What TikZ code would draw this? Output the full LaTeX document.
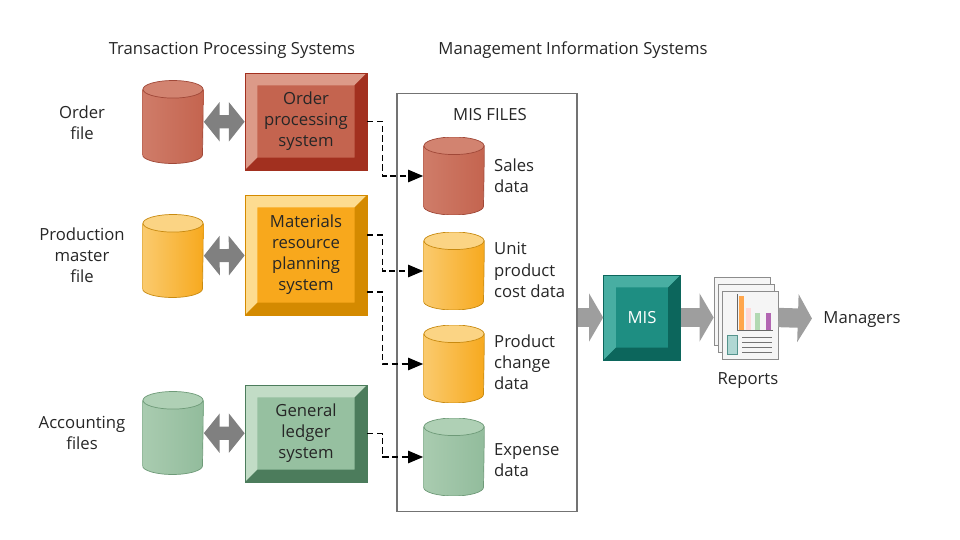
\documentclass[tikz,border=0pt]{standalone}
\usepackage{fontspec}
\setmainfont{Open Sans}
\usetikzlibrary{arrows.meta}

\definecolor{redface}{HTML}{C4644F}
\definecolor{redlight}{HTML}{DC9A88}
\definecolor{reddark}{HTML}{A2301F}
\definecolor{redbody}{HTML}{C4644F}
\definecolor{redend}{HTML}{D8907E}
\definecolor{redline}{HTML}{A04838}
\definecolor{orgface}{HTML}{F8A81C}
\definecolor{orglight}{HTML}{FDDC90}
\definecolor{orgdark}{HTML}{D48A00}
\definecolor{orgbody}{HTML}{F7A91E}
\definecolor{orgend}{HTML}{FDE6B0}
\definecolor{orgline}{HTML}{C88A10}
\definecolor{grnface}{HTML}{96C0A0}
\definecolor{grnlight}{HTML}{C2DCC6}
\definecolor{grndark}{HTML}{4C7C5C}
\definecolor{grnbody}{HTML}{92BC9C}
\definecolor{grnend}{HTML}{BCD8C0}
\definecolor{grnline}{HTML}{6E9A78}
\definecolor{misface}{HTML}{1E8E82}
\definecolor{mislight}{HTML}{48AEA2}
\definecolor{misdark}{HTML}{0C665C}

\tikzset{
	sysbox/.style n args={3}{fill=#1, draw=#3, align=center, inner sep=0pt,
		minimum width=2.44cm, minimum height=1.94cm, text=black!85,
		path picture={
			\path (path picture bounding box.south west) coordinate (osw)
				(path picture bounding box.north east) coordinate (one)
				([shift={(7pt,7pt)}]path picture bounding box.south west) coordinate (isw)
				([shift={(-7pt,-7pt)}]path picture bounding box.north east) coordinate (ine);
			\fill[#2] (osw) -- (osw |- one) -- (one) -- (ine) -- (isw |- ine) -- (isw) -- cycle;
			\fill[#3] (osw) -- (one |- osw) -- (one) -- (ine) -- (ine |- isw) -- (isw) -- cycle;
		}},
	datafile/.style n args={3}{minimum width=1.22cm, minimum height=1.66cm, inner sep=0pt,
		path picture={
			\path (path picture bounding box.south west) coordinate (csw)
				(path picture bounding box.north east) coordinate (cne);
			\shade[left color=#1!45!#2, right color=#1, draw=#3]
				([yshift=-5pt]csw |- cne) -- ([yshift=5pt]csw)
				arc[start angle=180, end angle=360, x radius=0.6cm, y radius=5pt]
				-- ([yshift=-5pt]cne) -- cycle;
			\fill[#2!70!#1, draw=#3] ([yshift=-5pt]path picture bounding box.north)
				ellipse [x radius=0.6cm, y radius=5pt];
		}},
	xchange/.style={draw=black!50, line width=7.5pt,
		{Triangle[length=9pt,width=22pt]}-{Triangle[length=9pt,width=22pt]}},
	dashfeed/.style={thick, dash pattern=on 3.5pt off 2pt, -{Triangle[length=8.5pt,width=7pt]}},
	bigarrow/.style={draw=black!38, line width=11pt, -{Triangle[length=8pt,width=27pt]}},
	reppage/.style={draw=black!45, fill=black!4, minimum width=1.12cm, minimum height=1.36cm, inner sep=0pt},
	lbl/.style={align=center, text=black!85},
}

\begin{document}
\begin{tikzpicture}[x=0.02cm, y=-0.02cm, font=\fontsize{9.5pt}{12pt}\selectfont]
	\useasboundingbox (0,0) rectangle (960,540);

	% headings
	\node[lbl] (tpshead) at (232,50) {Transaction Processing Systems};
	\node[lbl] (mishead) at (573,50) {Management Information Systems};

	% transaction processing systems
	\node[lbl] (ordlbl) at (82,123) {Order\\file};
	\node[lbl] (prodlbl) at (82,255) {Production\\master\\file};
	\node[lbl] (acctlbl) at (82,433) {Accounting\\files};

	\node[datafile={redbody}{redend}{redline}] (ordfile) at (173,122) {};
	\node[datafile={orgbody}{orgend}{orgline}] (prodfile) at (173,256) {};
	\node[datafile={grnbody}{grnend}{grnline}] (acctfile) at (173,433) {};

	\node[sysbox={redface}{redlight}{reddark}] (ordsys) at (306,121.5) {Order\\processing\\system};
	\node[sysbox={orgface}{orglight}{orgdark}, minimum height=2.4cm] (mrpsys) at (306,255) {Materials\\resource\\planning\\system};
	\node[sysbox={grnface}{grnlight}{grndark}] (glsys) at (306,433.5) {General\\ledger\\system};

	\draw [xchange] (ordfile) -- (ordsys);
	\draw [xchange] (prodfile) -- (mrpsys);
	\draw [xchange] (acctfile) -- (glsys);

	% MIS files
	\node[draw=black!55, semithick, minimum width=3.6cm, minimum height=8.38cm] (misfiles) at (487,302.5) {};
	\node[lbl] (mislbl) at (490,115) {MIS FILES};

	\node[datafile={redbody}{redend}{redline}, minimum height=1.56cm] (sales) at (454,176) {};
	\node[datafile={orgbody}{orgend}{orgline}, minimum height=1.56cm] (unitcost) at (454,271) {};
	\node[datafile={orgbody}{orgend}{orgline}, minimum height=1.56cm] (prodchg) at (454,364) {};
	\node[datafile={grnbody}{grnend}{grnline}, minimum height=1.56cm] (expense) at (454,457) {};

	\node[lbl, align=left, anchor=west] (saleslbl) at (488,176) {Sales\\data};
	\node[lbl, align=left, anchor=west] (unitlbl) at (488,270) {Unit\\product\\cost data};
	\node[lbl, align=left, anchor=west] (chglbl) at (488,362) {Product\\change\\data};
	\node[lbl, align=left, anchor=west] (explbl) at (488,460) {Expense\\data};

	\draw [dashfeed] (ordsys.east) -- ++(15,0) |- (sales);
	\draw [dashfeed] ([yshift=0.4cm]mrpsys.east) -- ++(15,0) |- (unitcost);
	\draw [dashfeed] ([yshift=-0.74cm]mrpsys.east) -- ++(15,0) |- (prodchg);
	\draw [dashfeed] (glsys.east) -- ++(15,0) |- (expense);

	% MIS and reports
	\node[sysbox={misface}{mislight}{misdark}, minimum width=1.54cm, minimum height=1.7cm, text=white] (mis) at (642,317.5) {MIS};

	\node[reppage] (rep3) at (742,311) {};
	\node[reppage] (rep2) at (746,318) {};
	\node[reppage] (rep) at (750,325) {};
	\fill[orange!70] (739,296) rectangle (744,330);
	\fill[red!15] (746,308) rectangle (751,330);
	\fill[green!50!black!30] (755,313) rectangle (760,330);
	\fill[violet!60] (766,313) rectangle (771,330);
	\draw[black!60] (737,294) -- (737,330) -- (773,330);
	\draw[draw=misdark!70, fill=misface!35] (727,335) rectangle (737,354);
	\foreach \y in {337,342,347,352}
		\draw[black!55] (742,\y) -- (772,\y);
	\node[lbl] (replbl) at (748,381) {Reports};

	\node[lbl] (mgr) at (862,320) {Managers};

	\draw [bigarrow] (misfiles.east |- mis) -- (mis);
	\draw [bigarrow] (mis) -- (mis -| rep3.west);
	\draw [bigarrow, shorten >=3pt] (rep.east |- mis) -- (mgr);
\end{tikzpicture}
\end{document}
